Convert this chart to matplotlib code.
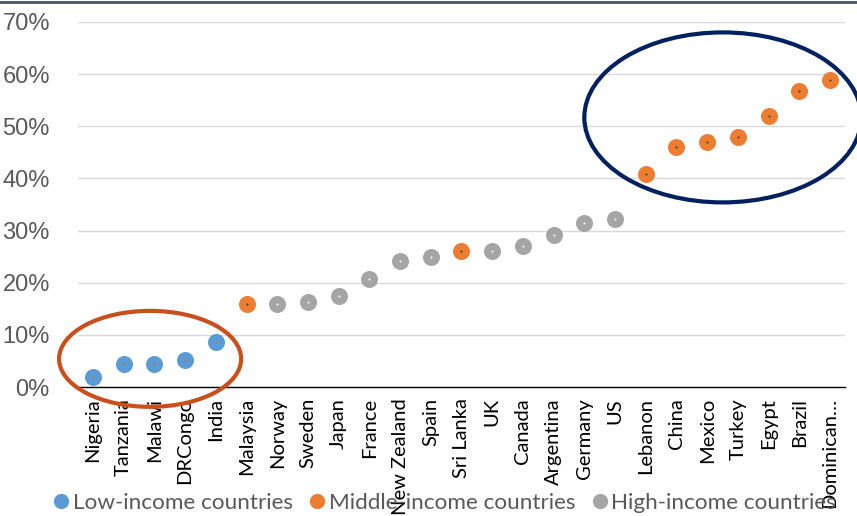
import matplotlib.pyplot as plt
from matplotlib.patches import Ellipse
from matplotlib.lines import Line2D

countries = ["Nigeria", "Tanzania", "Malawi", "DRCongo", "India", "Malaysia",
             "Norway", "Sweden", "Japan", "France", "New Zealand", "Spain",
             "Sri Lanka", "UK", "Canada", "Argentina", "Germany", "US",
             "Lebanon", "China", "Mexico", "Turkey", "Egypt", "Brazil",
             "Dominican…"]
share = [2.0, 4.5, 4.5, 5.1, 8.6, 16.0, 15.9, 16.3, 17.5, 20.8, 24.1, 25.0,
         26.0, 26.1, 27.0, 29.1, 31.4, 32.2, 40.8, 46.1, 46.9, 47.9, 51.9,
         56.8, 58.9]
group = ["low", "low", "low", "low", "low", "mid", "high", "high", "high",
         "high", "high", "high", "mid", "high", "high", "high", "high", "high",
         "mid", "mid", "mid", "mid", "mid", "mid", "mid"]
group_names = {"low": "Low-income countries",
               "mid": "Middle-income countries",
               "high": "High-income countries"}

colors = {"low": "#5B9BD5", "mid": "#ED7D31", "high": "#A5A5A5"}
dots = {"low": "#E0603A", "mid": "#333333", "high": "#FFFFFF"}

fig = plt.figure(figsize=(8.57, 5.16), dpi=100)
ax = fig.add_axes([0.0906, 0.25, 0.8958, 0.7074])

x = list(range(len(countries)))
for g in ["low", "mid", "high"]:
    xs = [i for i in x if group[i] == g]
    ys = [share[i] for i in x if group[i] == g]
    ax.scatter(xs, ys, s=150, color=colors[g], zorder=3, linewidths=0)
    ax.scatter(xs, ys, s=2, color=dots[g], zorder=4, linewidths=0)

ax.set_xlim(-0.5, len(countries) - 0.5)
ax.set_ylim(0, 70)
ax.set_yticks(range(0, 71, 10))
ax.set_yticklabels([f"{v}%" for v in range(0, 71, 10)],
                   fontsize=17, color="#595959", family="Liberation Sans")
ax.set_xticks(x)
ax.set_xticklabels(countries, rotation=90, fontsize=14.5, family="Lato",
                   color="black", va="top", ha="center")
ax.tick_params(length=0)
ax.tick_params(axis="y", pad=20)
ax.tick_params(axis="x", pad=8)
ax.grid(axis="y", color="#D9D9D9", linewidth=1)
ax.set_axisbelow(True)
for side in ["top", "right", "left"]:
    ax.spines[side].set_visible(False)
ax.spines["bottom"].set_linewidth(1)
ax.spines["bottom"].set_zorder(2)

# rings around the low and middle groups
ax.add_patch(Ellipse((1.86, 5.4), 5.93, 18.4, fill=False, edgecolor="#C9501C",
                     linewidth=3, clip_on=False, zorder=5))
ax.add_patch(Ellipse((20.51, 51.7), 9.02, 32.6, fill=False, edgecolor="#002060",
                     linewidth=3, clip_on=False, zorder=5))

handles = [Line2D([], [], marker="o", linestyle="none", markersize=11,
                  markerfacecolor=colors[g], markeredgewidth=0)
           for g in ["low", "mid", "high"]]
fig.legend(handles, [group_names[g] for g in ["low", "mid", "high"]],
           loc="center", bbox_to_anchor=(0.519, 0.025), ncol=3, frameon=False,
           prop={"family": "Lato", "size": 16.2}, labelcolor="#595959",
           handlelength=0.7, handletextpad=0.15, columnspacing=0.75,
           borderpad=0, borderaxespad=0)

fig.add_artist(Line2D([0, 1], [0.996, 0.996], color="#44546A", linewidth=2))

fig.savefig("out.png", dpi=100)
